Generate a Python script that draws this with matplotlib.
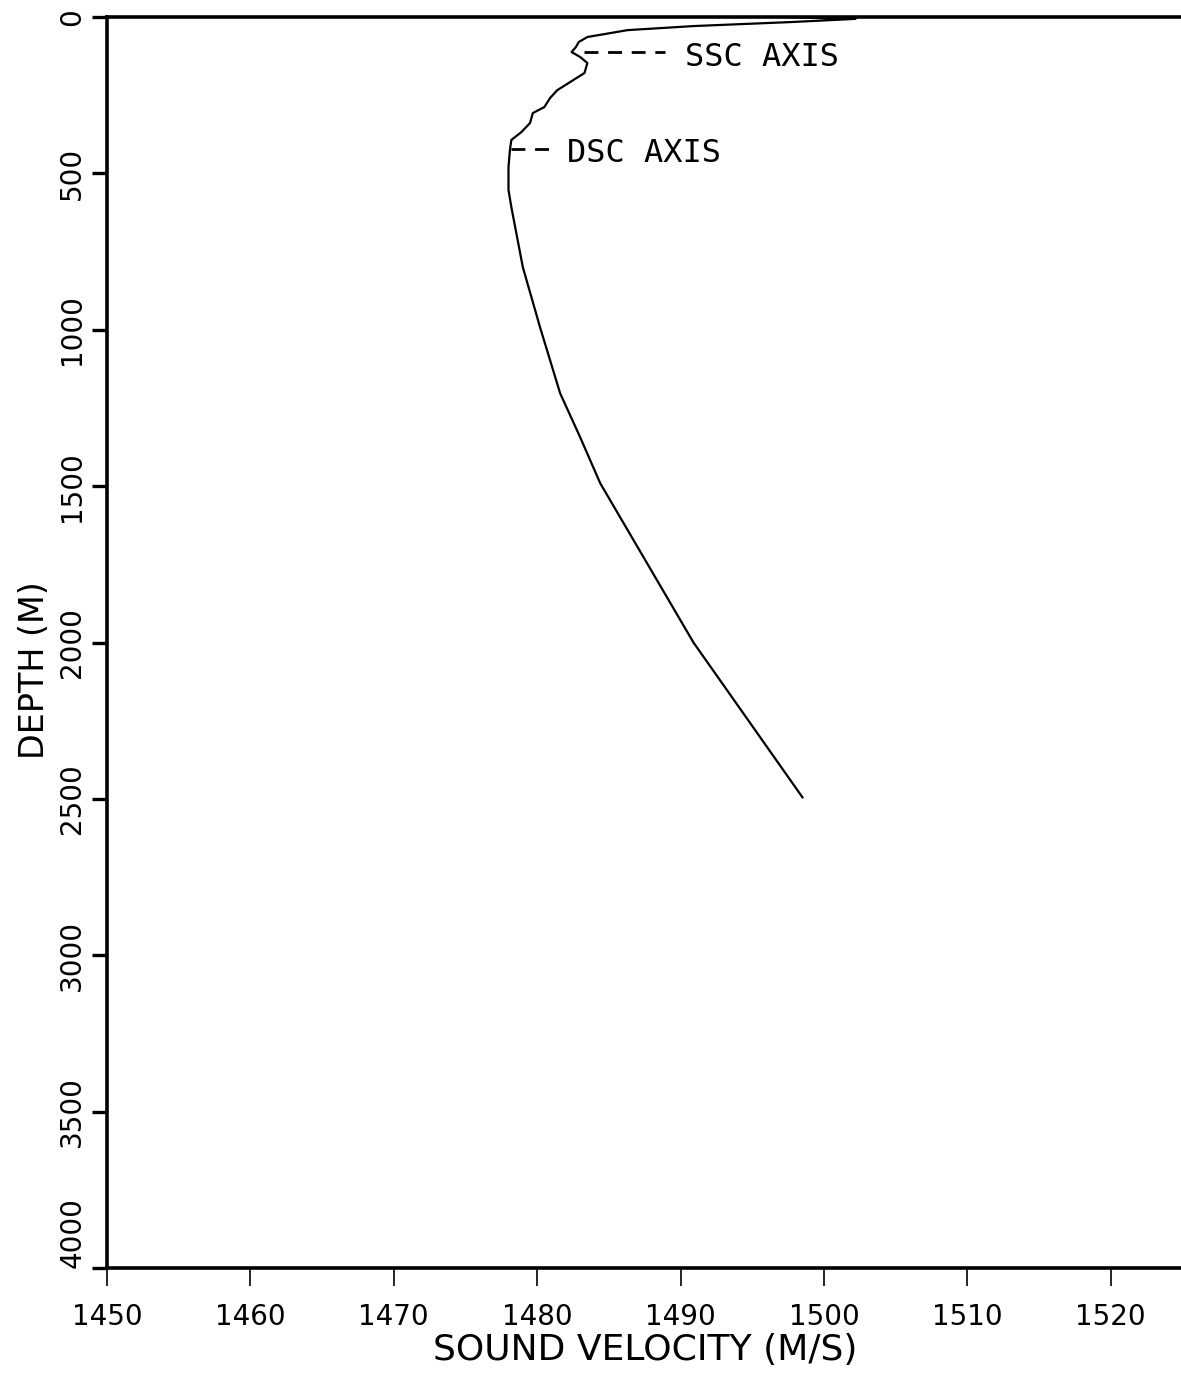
import matplotlib
matplotlib.use('Agg')
from matplotlib import pyplot as plt
from matplotlib import ticker

# sound velocity profile
velocity = [1497.0, 1502.2, 1497.8, 1490.9, 1486.3, 1483.5, 1482.9, 1482.7,
            1482.4, 1483.0, 1483.5, 1483.3, 1482.3, 1481.4, 1480.9, 1480.5,
            1479.7, 1479.5, 1478.9, 1478.2, 1478.1, 1478.0, 1478.0, 1478.2,
            1479.0, 1480.2, 1481.6, 1483.0, 1484.4, 1490.9, 1498.5]
depth = [0, 6, 16, 29, 42, 64, 80, 96,
         112, 128, 147, 179, 208, 234, 259, 288,
         307, 339, 368, 393, 425, 480, 553, 608,
         800, 992, 1203, 1344, 1491, 2000, 2495]

ssc_line_v = [1483.3, 1488.9]
ssc_depth = 112
dsc_line_v = [1478.2, 1481.4]
dsc_depth = 422

x_ticks = [1450, 1460, 1470, 1480, 1490, 1500, 1510, 1520]
y_ticks = [0, 500, 1000, 1500, 2000, 2500, 3000, 3500, 4000]

fig = plt.figure(figsize=(11.81, 13.74), dpi=100)
ax = fig.add_axes([107/1181, 1 - 1268/1374, 1074/1181, 1251/1374])

ax.plot(velocity, depth, color='k', lw=1.6)

# axis markers
ax.plot(ssc_line_v, [ssc_depth, ssc_depth], color='k', lw=2,
        dashes=(5, 3.5))
ax.plot(dsc_line_v, [dsc_depth, dsc_depth], color='k', lw=2,
        dashes=(5, 3.5))
ax.text(1490.3, 131, 'SSC AXIS', family='DejaVu Sans Mono', fontsize=23,
        ha='left', va='center')
ax.text(1482.1, 435, 'DSC AXIS', family='DejaVu Sans Mono', fontsize=23,
        ha='left', va='center')

ax.set_xlim(1450, 1524.9)
ax.set_ylim(4000, 0)
ax.xaxis.set_major_locator(ticker.FixedLocator(x_ticks))
ax.yaxis.set_major_locator(ticker.FixedLocator(y_ticks))

ax.spines['right'].set_visible(False)
for s in ['left', 'bottom', 'top']:
    ax.spines[s].set_linewidth(2.6)

ax.tick_params(axis='x', direction='out', length=13, width=1.2, pad=12,
               labelsize=20)
ax.tick_params(axis='y', direction='out', length=11, width=2.4, pad=4,
               labelsize=20, labelrotation=90)
ylabs = ax.get_yticklabels()
for lab in ylabs:
    lab.set_va('center')
ylabs[-1].set_va('bottom')

ax.set_xlabel('SOUND VELOCITY (M/S)', fontsize=26)
ax.set_ylabel('DEPTH (M)', fontsize=24)
ax.xaxis.set_label_coords(0.501, -0.052)
ax.yaxis.set_label_coords(-0.052, 0.478)

fig.savefig('out.png', dpi=100)
